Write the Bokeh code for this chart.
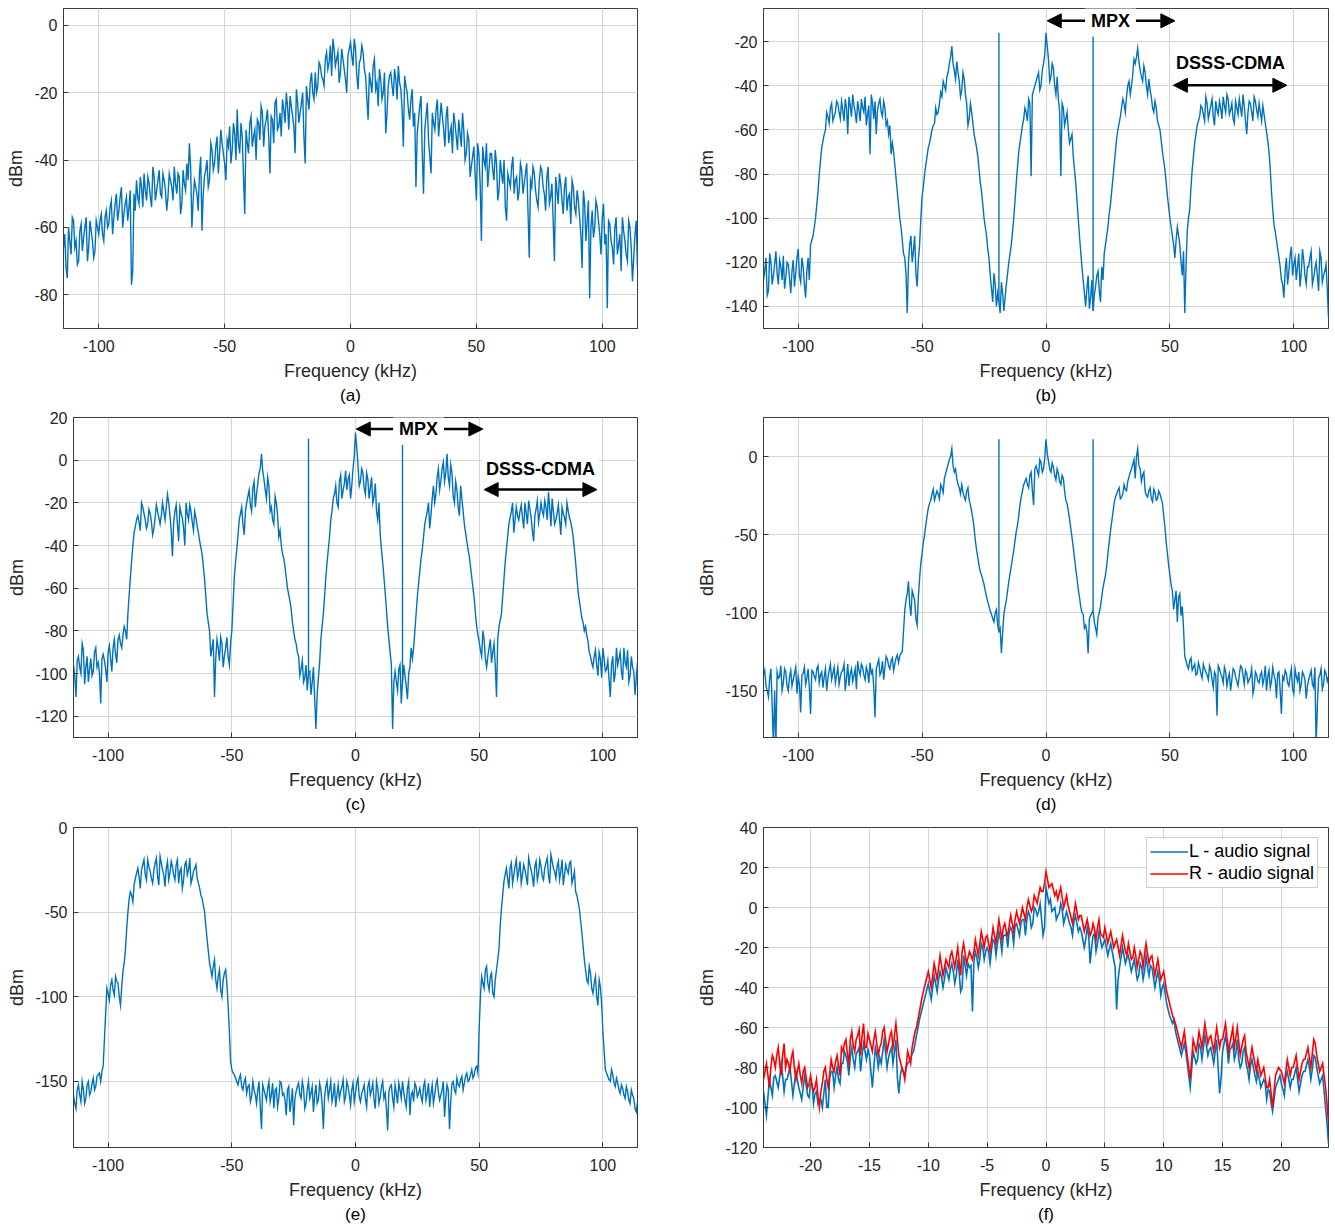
import numpy as np
from bokeh.plotting import figure
from bokeh.models import (Range1d, FixedTicker, Title, Arrow, NormalHead, Label,
                          Legend, LegendItem)
from bokeh.layouts import row, column
from bokeh.embed import file_html
from bokeh.resources import INLINE

# ---------------- data ----------------
# Panels (a)-(e): one value per kHz starting at -114 kHz ("dbm_x"),
# plus the in-between readings half a kHz later ("mid_x").
FREQ_START = -114.0
FREQ_STEP = 1.0
# Panel (f): one value per 0.25 kHz from -24 kHz, plus in-between readings.
FREQ_F_START = -24.0
FREQ_F_STEP = 0.25

dbm_a = [
    -66, -72, -60, -68, -58, -64, -70, -59, -63, -57,
    -66, -61, -69, -58, -62, -56, -64, -55, -59, -52,
    -57, -50, -55, -48, -56, -51, -54, -77, -50, -46,
    -53, -48, -44, -52, -47, -54, -45, -49, -43, -51,
    -46, -55, -44, -48, -42, -50, -45, -53, -47, -41,
    -35, -60, -46, -50, -44, -61, -45, -40, -46, -37,
    -41, -33, -38, -35, -41, -34, -30, -37, -32, -25,
    -38, -33, -56, -35, -29, -36, -31, -28, -34, -26,
    -30, -25, -44, -28, -23, -31, -26, -22, -29, -24,
    -21, -27, -38, -23, -26, -20, -41, -22, -17, -20,
    -14, -18, -12, -16, -10, -13, -6, -4, -12, -8,
    -14, -10, -16, -9, -5, -12, -7, -19, -10, -8,
    -15, -28, -17, -12, -19, -24, -16, -20, -32, -18,
    -14, -21, -16, -12, -19, -36, -18, -25, -22, -30,
    -48, -28, -21, -50, -27, -34, -44, -29, -25, -33,
    -23, -31, -27, -35, -30, -26, -33, -28, -36, -31,
    -38, -34, -42, -36, -52, -38, -64, -40, -35, -43,
    -38, -46, -41, -49, -44, -40, -58, -46, -42, -50,
    -45, -49, -43, -47, -41, -69, -48, -44, -52, -46,
    -43, -50, -45, -53, -47, -70, -49, -44, -52, -48,
    -55, -50, -46, -54, -49, -57, -72, -53, -58, -81,
    -55, -60, -54, -62, -57, -65, -84, -59, -66, -60,
    -68, -62, -57, -64, -70, -60, -76, -62, -72,
]
mid_a = [
    -62, -75, -64, -57, -66, -71, -61, -67, -60, -70,
    -58, -64, -67, -60, -58, -62, -57, -60, -54, -62,
    -53, -58, -51, -60, -53, -58, -49, -73, -55, -51,
    -45, -54, -49, -45, -51, -42, -52, -46, -50, -44,
    -49, -51, -46, -52, -47, -44, -56, -43, -49, -46,
    -42, -52, -48, -55, -39, -50, -43, -48, -35, -43,
    -36, -44, -31, -38, -46, -36, -41, -29, -40, -35,
    -29, -45, -31, -38, -27, -33, -40, -29, -24, -36,
    -28, -33, -27, -35, -22, -30, -33, -25, -20, -31,
    -24, -30, -19, -29, -23, -33, -18, -25, -14, -22,
    -20, -11, -15, -18, -8, -11, -15, -7, -10, -17,
    -7, -13, -20, -7, -9, -4, -15, -11, -6, -13,
    -22, -14, -20, -10, -17, -13, -22, -14, -26, -15,
    -18, -13, -22, -17, -25, -15, -20, -28, -19, -26,
    -32, -24, -38, -31, -23, -39, -26, -31, -22, -28,
    -27, -36, -24, -32, -38, -29, -37, -32, -26, -40,
    -32, -45, -39, -44, -35, -47, -36, -42, -48, -38,
    -43, -37, -52, -40, -47, -54, -44, -48, -39, -46,
    -52, -41, -50, -44, -55, -46, -42, -49, -54, -42,
    -48, -55, -42, -51, -58, -45, -53, -47, -56, -45,
    -51, -59, -48, -56, -52, -62, -49, -64, -52, -60,
    -63, -52, -58, -68, -53, -62, -58, -64, -71, -57,
    -65, -73, -61, -68, -58, -66, -69, -58,
]

dbm_b = [
    -128, -118, -133, -120, -126, -115, -130, -122, -117, -127,
    -121, -134, -119, -125, -114, -129, -122, -136, -118, -112,
    -108, -100, -88, -74, -65, -60, -54, -50, -56, -52,
    -48, -55, -51, -46, -62, -49, -44, -52, -47, -56,
    -50, -45, -53, -71, -48, -47, -51, -46, -54, -50,
    -56, -58, -66, -76, -88, -100, -110, -118, -143, -112,
    -120, -108, -131, -112, -90, -80, -72, -66, -60, -57,
    -53, -48, -45, -40, -36, -30, -22, -33, -29, -38,
    -42, -37, -48, -55, -52, -62, -68, -78, -88, -100,
    -108, -118, -132, -125, -140, -138, -129, -142, -130, -120,
    -112, -100, -84, -70, -62, -55, -52, -46, -81, -42,
    -38, -34, -40, -30, -16, -28, -36, -32, -44, -46,
    -81, -50, -55, -60, -64, -72, -84, -100, -115, -128,
    -140, -126, -136, -142, -131, -124, -138, -128, -112, -104,
    -94, -82, -70, -60, -54, -46, -52, -40, -44, -35,
    -30, -23, -33, -38, -34, -44, -42, -50, -47, -56,
    -60, -70, -78, -90, -100, -108, -118, -104, -112, -126,
    -143, -106, -96, -78, -66, -58, -54, -50, -56, -48,
    -52, -46, -58, -51, -47, -55, -49, -44, -53, -48,
    -57, -50, -46, -54, -49, -62, -47, -52, -45, -51,
    -48, -56, -53, -61, -70, -88, -103, -110, -118, -128,
    -136, -118, -124, -113, -121, -128, -116, -125, -119, -130,
    -122, -115, -127, -120, -133, -118, -126, -121, -145,
]
mid_b = [
    -124, -135, -116, -130, -121, -125, -119, -128, -132, -120,
    -127, -124, -131, -118, -126, -118, -130, -124, -128, -110,
    -104, -94, -80, -68, -62, -52, -57, -48, -54, -47,
    -52, -47, -56, -50, -45, -54, -49, -57, -51, -46,
    -52, -58, -49, -44, -55, -62, -48, -52, -47, -58,
    -62, -71, -70, -82, -94, -104, -116, -125, -120, -108,
    -115, -125, -119, -100, -86, -76, -68, -63, -58, -50,
    -52, -43, -38, -42, -34, -27, -30, -37, -34, -45,
    -34, -44, -58, -48, -57, -65, -72, -84, -94, -104,
    -114, -126, -138, -130, -134, -143, -134, -136, -125, -116,
    -106, -92, -77, -66, -58, -50, -56, -48, -44, -40,
    -36, -42, -33, -26, -22, -38, -30, -40, -36, -52,
    -48, -58, -52, -66, -62, -78, -92, -108, -122, -134,
    -132, -141, -128, -135, -126, -133, -122, -116, -108, -98,
    -88, -76, -64, -57, -50, -48, -45, -38, -40, -28,
    -27, -29, -36, -31, -40, -37, -45, -52, -50, -58,
    -65, -74, -84, -95, -104, -112, -110, -108, -120, -115,
    -122, -100, -86, -72, -62, -56, -49, -53, -45, -55,
    -49, -54, -47, -53, -50, -45, -52, -46, -51, -55,
    -47, -53, -50, -44, -56, -52, -48, -56, -47, -54,
    -52, -49, -57, -65, -78, -96, -106, -114, -122, -130,
    -124, -130, -117, -126, -118, -122, -131, -114, -126, -122,
    -118, -130, -123, -126, -115, -129, -124, -132,
]

dbm_c = [
    -96, -111, -92, -100, -89, -97, -104, -93, -99, -88,
    -95, -114, -91, -98, -90, -93, -88, -91, -84, -86,
    -82, -80, -72, -55, -40, -31, -26, -33, -22, -28,
    -30, -25, -35, -27, -24, -30, -20, -28, -16, -26,
    -45, -24, -30, -22, -27, -40, -25, -21, -29, -24,
    -31, -38, -44, -56, -72, -80, -88, -111, -84, -94,
    -86, -92, -83, -96, -80, -55, -42, -28, -22, -35,
    -20, -14, -24, -10, -16, -6, 3, -9, -18, -12,
    -22, -30, -20, -36, -40, -46, -55, -63, -70, -80,
    -86, -92, -98, -104, -96, -100, -110, -97, -126, -102,
    -84, -72, -55, -42, -28, -18, -12, -22, -7, -14,
    -5, -9, -18, -4, 13, -2, -10, -6, -16, -9,
    -13, -20, -11, -28, -35, -48, -62, -78, -90, -126,
    -99, -108, -96, -104, -101, -112, -97, -93, -80, -64,
    -52, -42, -30, -24, -32, -18, -20, -8, -14, -4,
    -10, 3, -12, -6, -20, -14, -26, -18, -30, -38,
    -45, -55, -65, -78, -85, -92, -84, -97, -88, -95,
    -86, -111, -78, -72, -56, -42, -30, -24, -34, -22,
    -28, -21, -32, -25, -19, -27, -38, -23, -29, -20,
    -26, -22, -15, -31, -24, -28, -21, -35, -25, -30,
    -24, -29, -36, -48, -62, -70, -76, -78, -85, -92,
    -97, -89, -101, -93, -88, -99, -94, -111, -92, -100,
    -96, -90, -103, -95, -89, -101, -97, -110, -95,
]
mid_c = [
    -101, -94, -97, -86, -105, -92, -98, -101, -90, -97,
    -100, -93, -94, -104, -87, -99, -84, -95, -82, -88,
    -78, -84, -63, -47, -34, -28, -29, -20, -25, -32,
    -23, -29, -32, -21, -27, -26, -24, -22, -20, -33,
    -29, -21, -38, -25, -32, -20, -28, -24, -33, -27,
    -34, -41, -50, -64, -76, -92, -84, -93, -88, -83,
    -97, -88, -92, -86, -68, -48, -35, -25, -30, -24,
    -17, -21, -13, -22, -11, -4, -5, -14, -8, -24,
    -28, -17, -26, -33, -44, -50, -60, -66, -76, -84,
    -90, -101, -94, -102, -108, -99, -104, -112, -110, -95,
    -78, -64, -48, -36, -24, -16, -20, -10, -18, -11,
    -14, -7, -12, 2, 6, -12, -4, -13, -6, -18,
    -8, -17, -24, -20, -42, -55, -70, -84, -96, -104,
    -104, -98, -114, -96, -106, -100, -88, -88, -72, -58,
    -46, -36, -27, -20, -26, -12, -16, -4, -10, -1,
    -6, -8, -2, -17, -10, -22, -12, -24, -34, -42,
    -50, -60, -72, -82, -89, -80, -93, -92, -84, -90,
    -96, -84, -75, -64, -48, -36, -27, -20, -28, -26,
    -24, -27, -20, -30, -23, -33, -26, -19, -25, -24,
    -19, -28, -22, -18, -30, -25, -28, -22, -27, -20,
    -27, -32, -42, -55, -66, -74, -80, -82, -90, -95,
    -92, -96, -90, -102, -93, -98, -103, -96, -104, -88,
    -93, -99, -88, -97, -104, -92, -99, -102,
]

dbm_d = [
    -140, -147, -154, -136, -185, -185, -142, -134, -145, -138,
    -150, -137, -143, -135, -141, -164, -139, -146, -136, -165,
    -138, -143, -134, -140, -148, -136, -142, -133, -139, -145,
    -135, -141, -137, -150, -133, -139, -144, -136, -131, -140,
    -135, -143, -138, -132, -137, -167, -133, -140, -131, -135,
    -130, -136, -129, -133, -127, -128, -125, -99, -88, -95,
    -86, -92, -108, -78, -62, -50, -38, -30, -24, -28,
    -22, -27, -20, -14, -8, -2, 5, -10, -14, -20,
    -18, -26, -22, -28, -35, -46, -60, -70, -76, -82,
    -90, -96, -101, -106, -98, -112, -126, -101, -92, -80,
    -70, -60, -48, -38, -26, -18, -14, -20, -10, -31,
    -6, -12, -4, -8, 11, -3, -10, -7, -15, -11,
    -18, -14, -28, -35, -46, -58, -72, -85, -96, -101,
    -108, -126, -102, -99, -110, -103, -96, -84, -76, -62,
    -48, -36, -26, -22, -27, -24, -21, -16, -10, -5,
    -14, 5, -8, -12, -22, -26, -20, -29, -23, -27,
    -24, -30, -45, -62, -76, -86, -92, -106, -88, -96,
    -128, -134, -131, -137, -133, -139, -135, -142, -136, -140,
    -134, -143, -138, -166, -136, -141, -135, -147, -139, -143,
    -137, -144, -140, -135, -146, -139, -143, -136, -148, -140,
    -145, -138, -142, -150, -137, -144, -140, -155, -138, -165,
    -143, -139, -147, -136, -152, -141, -138, -146, -140, -155,
    -143, -137, -148, -185, -142, -136, -146, -139, -141,
]
mid_d = [
    -137, -150, -142, -160, -150, -138, -141, -150, -136, -147,
    -141, -147, -139, -152, -146, -140, -135, -142, -148, -137,
    -141, -136, -145, -138, -141, -150, -137, -143, -135, -140,
    -146, -138, -133, -142, -147, -136, -140, -149, -137, -133,
    -140, -135, -145, -139, -148, -136, -130, -138, -143, -128,
    -134, -131, -137, -129, -132, -126, -112, -92, -80, -102,
    -89, -104, -90, -68, -55, -44, -33, -28, -21, -25,
    -24, -18, -23, -11, -5, 0, -6, -8, -18, -24,
    -23, -28, -20, -31, -40, -54, -65, -74, -79, -86,
    -93, -99, -104, -100, -108, -110, -113, -96, -86, -75,
    -65, -54, -44, -31, -22, -16, -18, -12, -22, -8,
    -9, -2, -10, -1, 2, -8, -4, -12, -8, -16,
    -12, -22, -30, -40, -52, -65, -78, -90, -100, -110,
    -112, -104, -100, -106, -114, -100, -90, -80, -70, -55,
    -42, -30, -24, -20, -26, -18, -22, -13, -8, -2,
    0, -6, -16, -10, -25, -22, -27, -21, -28, -22,
    -27, -38, -55, -70, -82, -98, -86, -90, -102, -110,
    -131, -136, -129, -135, -140, -132, -139, -133, -138, -143,
    -137, -148, -140, -134, -139, -145, -138, -142, -150, -136,
    -141, -147, -134, -140, -137, -145, -141, -152, -138, -144,
    -140, -146, -134, -141, -148, -135, -143, -139, -150, -141,
    -137, -145, -141, -149, -136, -144, -150, -138, -143, -147,
    -140, -146, -135, -160, -140, -149, -137, -144,
]

dbm_e = [
    -158, -166, -152, -162, -155, -160, -150, -156, -148, -153,
    -146, -150, -141, -110, -98, -93, -96, -88, -92, -105,
    -85, -72, -50, -38, -44, -30, -24, -36, -22, -28,
    -19, -26, -33, -21, -29, -17, -25, -35, -20, -27,
    -23, -31, -19, -26, -36, -22, -28, -18, -30, -24,
    -30, -36, -42, -50, -66, -80, -88, -78, -95, -84,
    -100, -86, -92, -120, -143, -146, -150, -148, -153, -150,
    -157, -152, -159, -155, -163, -150, -178, -155, -161, -150,
    -158, -166, -154, -160, -151, -157, -170, -153, -162, -176,
    -156, -151, -160, -154, -163, -150, -157, -168, -152, -161,
    -155, -178, -153, -160, -150, -158, -165, -152, -156, -149,
    -159, -153, -164, -151, -157, -148, -162, -155, -160, -153,
    -158, -151, -166, -154, -159, -150, -157, -179, -153, -160,
    -152, -163, -155, -150, -161, -154, -170, -156, -151, -159,
    -154, -162, -150, -157, -165, -152, -158, -149, -161, -155,
    -171, -152, -178, -151, -155, -148, -153, -147, -151, -145,
    -149, -143, -146, -141, -118, -88, -95, -82, -96, -86,
    -100, -84, -72, -48, -32, -24, -36, -21, -28, -19,
    -26, -33, -22, -29, -18, -25, -35, -20, -27, -23,
    -31, -21, -28, -16, -24, -30, -20, -26, -34, -22,
    -27, -20, -30, -38, -44, -55, -70, -84, -92, -86,
    -98, -88, -105, -94, -120, -143, -147, -150, -146, -153,
    -151, -157, -154, -160, -156, -163, -158, -166, -162,
]
mid_e = [
    -163, -155, -158, -150, -163, -152, -158, -151, -155, -147,
    -145, -144, -125, -95, -102, -90, -99, -91, -100, -94,
    -80, -60, -42, -40, -34, -27, -29, -25, -19, -31,
    -23, -30, -25, -18, -34, -21, -28, -24, -31, -20,
    -28, -22, -33, -24, -31, -20, -25, -33, -26, -22,
    -33, -40, -46, -58, -73, -84, -82, -90, -88, -96,
    -90, -84, -105, -138, -145, -148, -152, -146, -155, -148,
    -153, -162, -150, -158, -155, -165, -152, -158, -154, -162,
    -151, -155, -165, -150, -158, -161, -155, -168, -154, -160,
    -153, -158, -150, -166, -155, -160, -153, -158, -163, -151,
    -163, -159, -150, -155, -162, -151, -158, -160, -153, -162,
    -150, -158, -155, -162, -151, -159, -157, -152, -165, -150,
    -155, -161, -150, -163, -153, -160, -166, -156, -152, -165,
    -157, -151, -160, -156, -165, -150, -158, -162, -153, -157,
    -159, -153, -161, -151, -157, -163, -152, -156, -158, -150,
    -160, -155, -162, -150, -157, -152, -149, -155, -147, -150,
    -146, -148, -142, -145, -100, -92, -84, -92, -88, -98,
    -90, -78, -58, -40, -28, -30, -24, -33, -23, -30,
    -20, -28, -25, -34, -22, -29, -23, -31, -19, -29,
    -24, -18, -33, -20, -26, -23, -31, -19, -28, -25,
    -21, -33, -26, -40, -48, -62, -78, -90, -82, -95,
    -92, -100, -90, -104, -132, -145, -149, -143, -151, -148,
    -155, -152, -158, -153, -161, -155, -160, -168,
]

dbm_f_right = [
    -86, -78, -90, -74, -80, -70, -84, -68, -76, -82, -72, -86,
    -78, -88, -80, -90, -84, -92, -86, -100, -88, -80, -90, -76,
    -82, -74, -84, -72, -66, -78, -62, -72, -64, -74, -58, -70,
    -66, -72, -62, -74, -68, -60, -72, -64, -70, -58, -74, -80,
    -86, -72, -78, -66, -60, -52, -44, -38, -32, -40, -28, -36,
    -24, -34, -26, -30, -22, -30, -20, -34, -18, -28, -22, -26,
    -16, -24, -12, -20, -14, -22, -10, -18, -6, -16, -8, -14,
    -4, -12, -2, -8, 0, -6, 4, -2, 6, 2, 10, 8,
    18, 10, 12, 6, 4, 10, 0, 6, -2, -8, 2, -6,
    -4, -12, -6, -14, -8, -16, -6, -14, -10, -18, -12, -20,
    -16, -24, -14, -22, -18, -26, -20, -30, -22, -30, -18, -28,
    -24, -34, -26, -36, -32, -42, -48, -54, -58, -64, -70, -62,
    -74, -86, -66, -72, -62, -70, -58, -68, -64, -72, -60, -70,
    -66, -58, -72, -64, -70, -60, -74, -66, -72, -80, -70, -78,
    -76, -84, -80, -90, -86, -100, -84, -80, -82, -88, -76, -84,
    -80, -74, -86, -78, -76, -70, -80, -66, -74, -82, -78, -90,
    -108,
]
mid_f_right = [
    -82, -84, -80, -76, -74, -78, -74, -80, -78, -75, -80, -82,
    -84, -82, -85, -88, -89, -90, -94, -92, -82, -86, -83, -80,
    -77, -79, -70, -68, -73, -66, -69, -66, -61, -64, -70, -63,
    -69, -66, -68, -70, -62, -66, -68, -62, -64, -66, -77, -82,
    -79, -75, -70, -62, -56, -48, -41, -35, -36, -34, -32, -30,
    -29, -30, -28, -24, -26, -25, -27, -22, -23, -25, -24, -22,
    -20, -18, -16, -15, -18, -16, -14, -12, -11, -10, -12, -9,
    -8, -6, -5, -4, -3, 0, 1, 0, 4, 6, 8, 12,
    14, 11, 9, 8, 7, 5, 3, 1, -5, -3, -2, -4,
    -8, -9, -10, -12, -11, -10, -13, -15, -14, -15, -16, -18,
    -20, -19, -18, -24, -22, -25, -24, -26, -24, -23, -23, -25,
    -29, -30, -31, -34, -37, -45, -51, -56, -61, -67, -66, -68,
    -80, -76, -69, -68, -66, -64, -63, -65, -68, -66, -65, -66,
    -62, -65, -68, -60, -65, -67, -70, -64, -76, -75, -74, -82,
    -80, -82, -85, -90, -93, -92, -82, -81, -85, -82, -80, -80,
    -77, -80, -82, -76, -73, -75, -73, -68, -78, -80, -84, -98,
]

dbm_f_left = [
    -92, -104, -86, -94, -84, -90, -78, -92, -86, -80, -94, -82,
    -90, -96, -84, -94, -88, -98, -92, -96, -100, -86, -100, -82,
    -90, -80, -88, -78, -74, -84, -70, -80, -72, -82, -68, -76,
    -74, -90, -70, -80, -78, -66, -80, -72, -78, -66, -93, -80,
    -84, -78, -76, -72, -64, -56, -50, -44, -38, -46, -34, -42,
    -32, -40, -30, -36, -28, -38, -26, -42, -24, -34, -30, -52,
    -22, -30, -18, -26, -20, -28, -16, -24, -12, -22, -14, -20,
    -10, -18, -8, -14, -6, -14, -2, -10, 0, -4, 2, -14,
    10, 2, -2, 0, -4, 2, -8, -2, -8, -14, -4, -12,
    -12, -20, -10, -28, -14, -22, -12, -20, -16, -24, -18, -26,
    -51, -30, -20, -28, -24, -32, -26, -36, -28, -36, -24, -34,
    -30, -40, -32, -44, -38, -48, -54, -58, -62, -68, -74, -68,
    -78, -90, -72, -78, -68, -76, -64, -74, -70, -78, -66, -93,
    -72, -64, -78, -70, -76, -66, -80, -72, -78, -86, -76, -84,
    -82, -90, -86, -96, -92, -102, -90, -86, -88, -94, -82, -90,
    -86, -80, -92, -84, -82, -76, -86, -74, -80, -88, -84, -100,
    -118,
]
mid_f_left = [
    -98, -95, -90, -85, -87, -85, -84, -86, -83, -87, -88, -86,
    -93, -90, -89, -95, -88, -93, -98, -96, -93, -100, -85, -82,
    -84, -86, -78, -72, -77, -75, -76, -73, -70, -74, -72, -71,
    -82, -80, -74, -75, -72, -73, -75, -70, -72, -85, -84, -82,
    -80, -77, -73, -68, -60, -53, -47, -41, -42, -40, -38, -36,
    -35, -36, -33, -31, -32, -34, -33, -40, -29, -28, -29, -27,
    -25, -26, -20, -22, -22, -21, -17, -18, -16, -14, -13, -12,
    -12, -9, -11, -8, -6, -6, -4, -8, -1, -2, -6, -10,
    6, 4, -1, -6, -3, -1, -5, -5, -10, -7, -8, -10,
    -16, -16, -14, -20, -13, -18, -16, -18, -20, -21, -22, -30,
    -36, -25, -24, -25, -28, -29, -31, -34, -30, -32, -30, -29,
    -35, -36, -36, -40, -43, -51, -56, -56, -65, -71, -71, -72,
    -84, -81, -75, -76, -70, -70, -69, -71, -74, -72, -80, -85,
    -68, -70, -71, -68, -73, -76, -78, -70, -81, -79, -80, -87,
    -86, -88, -88, -91, -98, -96, -88, -84, -91, -85, -86, -86,
    -83, -86, -88, -82, -79, -80, -81, -75, -84, -86, -92, -108,
]

# 19 kHz pilot tone in the MPX spectra
pilot_freq = [-19, 19]
pilot_peak_b = [-16, -16]
pilot_peak_c = [10, 10]
pilot_peak_d = [11, 11]

x_ticks = [-100, -50, 0, 50, 100]
x_ticks_f = [-20, -15, -10, -5, 0, 5, 10, 15, 20]
y_ticks_a = [-80, -60, -40, -20, 0]
y_ticks_b = [-140, -120, -100, -80, -60, -40, -20]
y_ticks_c = [-120, -100, -80, -60, -40, -20, 0, 20]
y_ticks_d = [-150, -100, -50, 0]
y_ticks_e = [-150, -100, -50, 0]
y_ticks_f = [-120, -100, -80, -60, -40, -20, 0, 20, 40]

# ---------------- styling ----------------
BLUE = "#0072BD"
RED = "#FF0000"
FONT = "Liberation Sans"
TXT = "#262626"
FRAME = "#3a3a3a"
GRID = "#d6d6d6"
LW = 1.4
LW_F = 1.6


def merged(main, mid, start, step):
    xs, ys = [], []
    for i, v in enumerate(main):
        xs.append(start + i * step)
        ys.append(v)
        if i < len(mid) and i < len(main) - 1:
            xs.append(start + (i + 0.5) * step)
            ys.append(mid[i])
    return xs, ys


def base_fig(xr, yr, xticks, yticks, fw, fh, bl, br, bt, bb, caption):
    p = figure(frame_width=fw, frame_height=fh,
               x_range=Range1d(*xr), y_range=Range1d(*yr),
               output_backend="svg", toolbar_location=None,
               min_border_left=bl, min_border_right=br,
               min_border_top=bt, min_border_bottom=bb)
    p.background_fill_color = "white"
    p.border_fill_color = "white"
    p.outline_line_color = FRAME
    p.outline_line_width = 1
    p.xgrid.grid_line_color = GRID
    p.ygrid.grid_line_color = GRID
    p.xaxis.ticker = FixedTicker(ticks=xticks)
    p.yaxis.ticker = FixedTicker(ticks=yticks)
    p.xaxis.major_label_overrides = {t: str(t) for t in xticks}
    p.yaxis.major_label_overrides = {t: str(t) for t in yticks}
    for ax in (p.xaxis[0], p.yaxis[0]):
        ax.axis_line_color = FRAME
        ax.major_tick_in = 5
        ax.major_tick_out = 0
        ax.major_tick_line_color = FRAME
        ax.minor_tick_line_color = None
        ax.major_label_text_font = FONT
        ax.major_label_text_font_size = "16px"
        ax.major_label_text_color = TXT
        ax.axis_label_text_font = FONT
        ax.axis_label_text_font_size = "18px"
        ax.axis_label_text_font_style = "normal"
        ax.axis_label_text_color = TXT
    p.xaxis.axis_label = "Frequency (kHz)"
    p.yaxis.axis_label = "dBm"
    p.xaxis.major_label_standoff = 11
    p.xaxis.axis_label_standoff = 6
    p.yaxis.major_label_standoff = 6
    p.yaxis.axis_label_standoff = 5
    p.add_layout(Title(text=caption, align="center", text_font=FONT,
                       text_font_size="17px", text_font_style="normal",
                       text_color="black", standoff=1), "below")
    return p


def spectrum(p, main, mid, start, step, color=BLUE, width=LW):
    xs, ys = merged(main, mid, start, step)
    return p.line(xs, ys, line_color=color, line_width=width, line_join="miter")


def pilots(p, values, peaks):
    base = [values[int(round((f - FREQ_START) / FREQ_STEP))] for f in pilot_freq]
    p.segment(x0=pilot_freq, y0=base, x1=pilot_freq, y1=peaks,
              line_color=BLUE, line_width=LW)


def double_arrow(p, x0, x1, y):
    p.add_layout(Arrow(x_start=x0, y_start=y, x_end=x1, y_end=y,
                       line_color="black", line_width=2.5,
                       start=NormalHead(size=14, fill_color="black", line_color="black"),
                       end=NormalHead(size=14, fill_color="black", line_color="black")))


def bold_text(p, x, y, text, pad):
    p.add_layout(Label(x=x, y=y, text=text, text_align="center",
                       text_baseline="middle", text_font=FONT,
                       text_font_size="18px", text_font_style="bold",
                       text_color="black", background_fill_color="white",
                       padding=pad))


# (a)
pa = base_fig((-114, 114), (-90, 5), x_ticks, y_ticks_a, 574, 320, 63, 43, 8, 81, "(a)")
spectrum(pa, dbm_a, mid_a, FREQ_START, FREQ_STEP)

# (b)
pb = base_fig((-114, 114), (-150, -5), x_ticks, y_ticks_b, 565, 320, 83, 7, 8, 81, "(b)")
spectrum(pb, dbm_b, mid_b, FREQ_START, FREQ_STEP)
pilots(pb, dbm_b, pilot_peak_b)
double_arrow(pb, 0.5, 52, -10.6)
bold_text(pb, 26, -10.6, "MPX", 6)
bold_text(pb, 74.5, -29.8, "DSSS-CDMA", 4)
double_arrow(pb, 51.4, 97.2, -39.8)

# (c)
pc = base_fig((-114, 114), (-130, 20), x_ticks, y_ticks_c, 564, 320, 73, 43, 8, 82, "(c)")
spectrum(pc, dbm_c, mid_c, FREQ_START, FREQ_STEP)
pilots(pc, dbm_c, pilot_peak_c)
double_arrow(pc, 0.3, 51.5, 14.6)
bold_text(pc, 25.5, 14.6, "MPX", 6)
bold_text(pc, 74.8, -4.2, "DSSS-CDMA", 4)
double_arrow(pc, 52, 97.6, -13.8)

# (d)
pd = base_fig((-114, 114), (-180, 25), x_ticks, y_ticks_d, 565, 320, 83, 7, 8, 82, "(d)")
spectrum(pd, dbm_d, mid_d, FREQ_START, FREQ_STEP)
pilots(pd, dbm_d, pilot_peak_d)

# (e)
pe = base_fig((-114, 114), (-189, 0), x_ticks, y_ticks_e, 564, 320, 73, 43, 8, 80, "(e)")
spectrum(pe, dbm_e, mid_e, FREQ_START, FREQ_STEP)

# (f)
pf = base_fig((-24, 24), (-120, 40), x_ticks_f, y_ticks_f, 565, 320, 83, 7, 8, 80, "(f)")
rl = spectrum(pf, dbm_f_left, mid_f_left, FREQ_F_START, FREQ_F_STEP, BLUE, LW_F)
rr = spectrum(pf, dbm_f_right, mid_f_right, FREQ_F_START, FREQ_F_STEP, RED, LW_F)
legend = Legend(items=[LegendItem(label="L - audio signal", renderers=[rl]),
                       LegendItem(label="R - audio signal", renderers=[rr])],
                location="top_right", margin=10, padding=3, spacing=1,
                label_text_font=FONT, label_text_font_size="18px",
                label_text_color="black", glyph_width=38, glyph_height=21,
                label_height=21, label_standoff=1,
                border_line_color="#9a9a9a", background_fill_alpha=1.0)
pf.add_layout(legend)

layout = column(row(pa, pb), row(pc, pd), row(pe, pf))

with open("out.html", "w") as fh:
    fh.write(file_html(layout, INLINE))
